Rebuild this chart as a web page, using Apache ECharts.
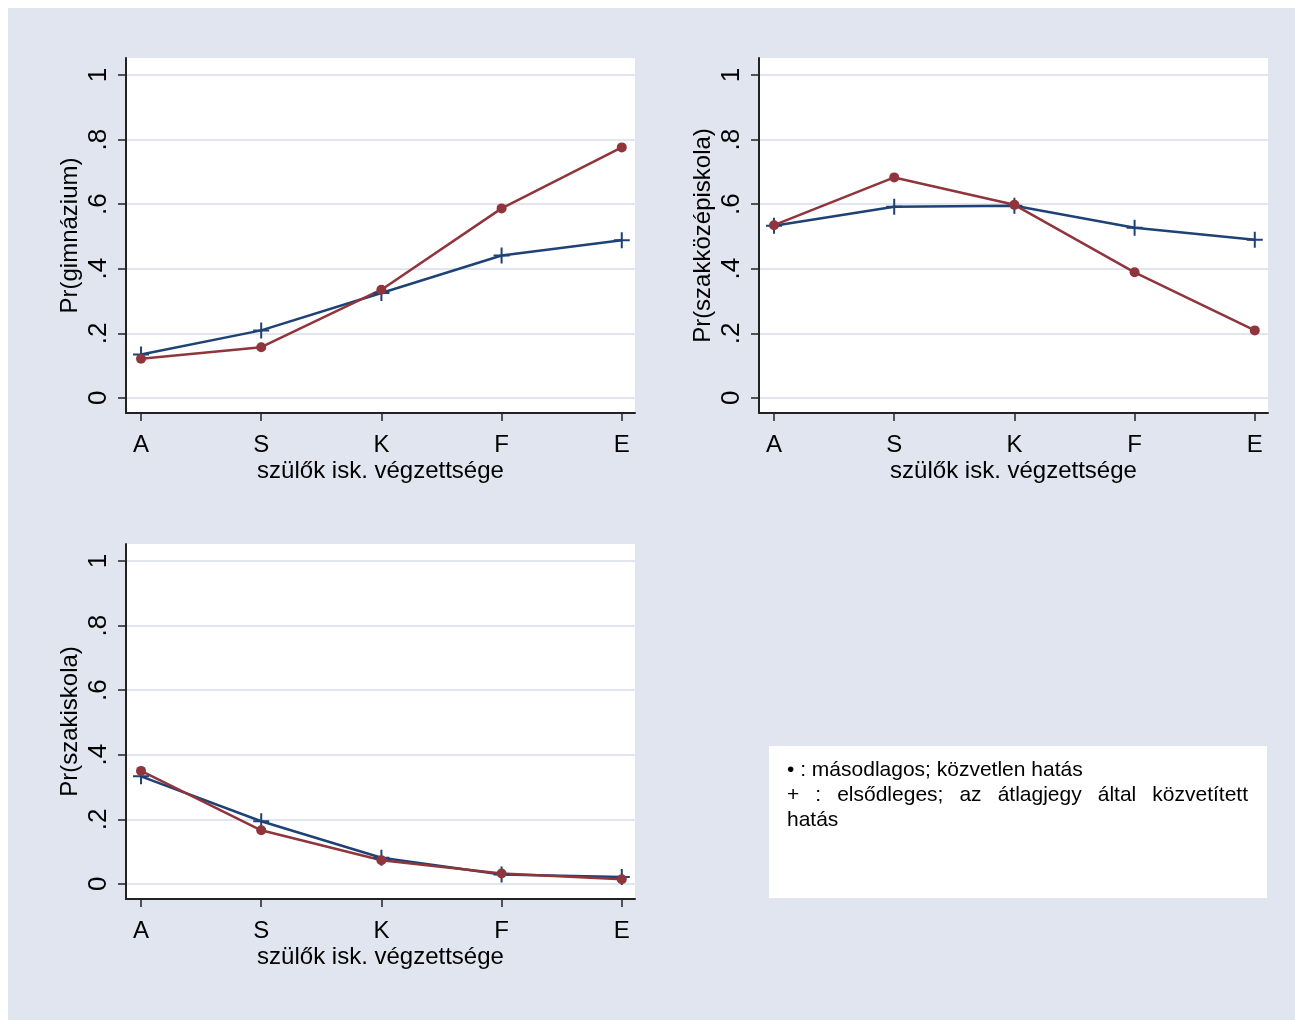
<!DOCTYPE html>
<html>
<head>
<meta charset="utf-8">
<script src="https://cdn.jsdelivr.net/npm/echarts@6/dist/echarts.min.js"></script>
<style>
html, body { margin: 0; background: #fff; overflow: hidden; }
#chart { position: absolute; left: 8px; top: 8px; width: 1295px; height: 1020px; }
</style>
</head>
<body>
<div id="chart"></div>
<script>
// categories: parents' education level
var cats = ['A', 'S', 'K', 'F', 'E'];
var yTicks = [0, 0.2, 0.4, 0.6, 0.8, 1];

// gimnázium
var gimMasod = [0.121, 0.157, 0.335, 0.587, 0.776];   // red dots
var gimElso = [0.134, 0.209, 0.325, 0.441, 0.488];    // blue plus
// szakközépiskola
var szkMasod = [0.535, 0.683, 0.598, 0.389, 0.209];
var szkElso = [0.533, 0.592, 0.595, 0.527, 0.490];
// szakiskola
var szaMasod = [0.350, 0.166, 0.073, 0.032, 0.014];
var szaElso = [0.333, 0.194, 0.081, 0.029, 0.021];

var yNames = ['Pr(gimnázium)', 'Pr(szakközépiskola)', 'Pr(szakiskola)'];
var xName = 'szülők isk. végzettsége';

var FONT = "'Liberation Sans', Arial, sans-serif";
var RED = '#90353b', NAVY = '#1e4276', BG = '#e0e5ef';
var PLUS = 'path://M7,0h2v16h-2zM0,7h16v2h-16z';

var myChart = echarts.init(document.getElementById('chart'));

var grids = [
    {left: 118, top: 50, width: 509, height: 355},
    {left: 751, top: 50, width: 509, height: 355},
    {left: 118, top: 536, width: 509, height: 355}
];

function fmtY(v) {
    if (v === 0) return '0';
    if (v === 1) return '1';
    return v.toFixed(1).replace(/^0/, '');
}

var xAxes = [], yAxes = [], series = [];
var panels = [[gimElso, gimMasod], [szkElso, szkMasod], [szaElso, szaMasod]];

for (var i = 0; i < 3; i++) {
    grids[i].show = true;
    grids[i].backgroundColor = '#fff';
    grids[i].borderWidth = 0;
    grids[i].containLabel = false;
    xAxes.push({
        type: 'value', gridIndex: i, min: -0.125, max: 4.11,
        name: xName, nameLocation: 'middle', nameGap: 46,
        nameTextStyle: {fontFamily: FONT, fontSize: 24, color: '#000'},
        axisLine: {show: true, onZero: false, lineStyle: {color: '#222', width: 2}},
        axisTick: {show: true, length: 8, customValues: [0, 1, 2, 3, 4], lineStyle: {color: '#222', width: 1.5}},
        axisLabel: {customValues: [0, 1, 2, 3, 4], margin: 20, fontFamily: FONT, fontSize: 24, color: '#000',
            formatter: function (v) { return cats[Math.round(v)]; }},
        splitLine: {show: false}
    });
    yAxes.push({
        type: 'value', gridIndex: i, min: -0.047, max: 1.053,
        name: yNames[i], nameLocation: 'middle', nameGap: 44, nameRotate: 90,
        nameTextStyle: {fontFamily: FONT, fontSize: 24, color: '#000'},
        axisLine: {show: true, onZero: false, lineStyle: {color: '#222', width: 2}},
        axisTick: {show: true, length: 8, customValues: yTicks, lineStyle: {color: '#222', width: 1.5}},
        axisLabel: {customValues: yTicks, rotate: 90, margin: 14, fontFamily: FONT, fontSize: 26, color: '#000',
            formatter: fmtY},
        splitLine: {show: true, lineStyle: {color: BG, width: 2}}
    });
    var elso = panels[i][0], masod = panels[i][1];
    series.push({
        type: 'line', xAxisIndex: i, yAxisIndex: i,
        data: elso.map(function (v, k) { return [k, v]; }),
        symbol: PLUS, symbolSize: 16, showAllSymbol: true,
        lineStyle: {color: NAVY, width: 2.5},
        itemStyle: {color: NAVY}
    });
    series.push({
        type: 'line', xAxisIndex: i, yAxisIndex: i,
        data: masod.map(function (v, k) { return [k, v]; }),
        symbol: 'circle', symbolSize: 10, showAllSymbol: true,
        lineStyle: {color: RED, width: 2.5},
        itemStyle: {color: RED}
    });
}

// legend note box, second line justified like the original
var noteSize = 21;
var ctx = document.createElement('canvas').getContext('2d');
ctx.font = noteSize + 'px "Liberation Sans"';
var words = ['+', ':', 'elsődleges;', 'az', 'átlagjegy', 'által', 'közvetített'];
var lineLeft = 779, lineRight = 1240;
var sumW = 0;
words.forEach(function (w) { sumW += ctx.measureText(w).width; });
var gap = (lineRight - lineLeft - sumW) / (words.length - 1);
var graphics = [{
    type: 'rect', shape: {x: 761, y: 738, width: 498, height: 152},
    style: {fill: '#fff'}
}, {
    type: 'text', x: lineLeft, y: 762,
    style: {text: '• : másodlagos; közvetlen hatás', fontSize: noteSize, fontFamily: FONT, fill: '#000', verticalAlign: 'middle'}
}, {
    type: 'text', x: lineLeft, y: 812,
    style: {text: 'hatás', fontSize: noteSize, fontFamily: FONT, fill: '#000', verticalAlign: 'middle'}
}];
var cx = lineLeft;
words.forEach(function (w) {
    graphics.push({
        type: 'text', x: cx, y: 787,
        style: {text: w, fontSize: noteSize, fontFamily: FONT, fill: '#000', verticalAlign: 'middle'}
    });
    cx += ctx.measureText(w).width + gap;
});

option = {
    backgroundColor: BG,
    animation: false,
    grid: grids,
    xAxis: xAxes,
    yAxis: yAxes,
    series: series,
    graphic: graphics
};
myChart.setOption(option);
</script>
</body>
</html>
